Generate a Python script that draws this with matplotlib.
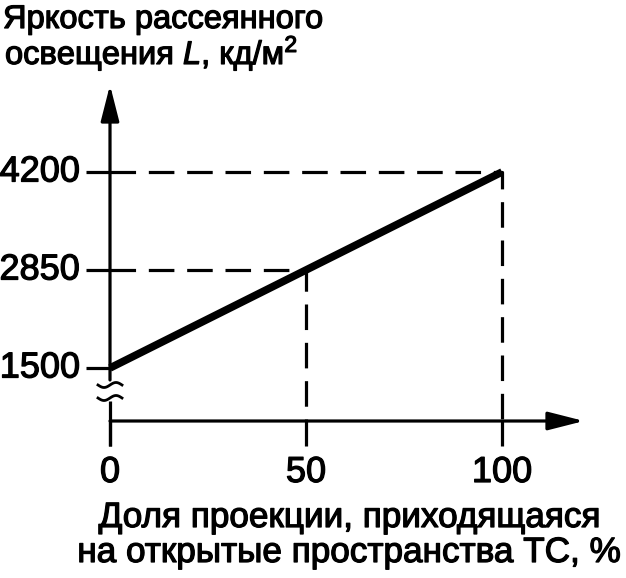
import numpy as np
import matplotlib.pyplot as plt
import matplotlib.patheffects as pe

plt.rcParams['font.family'] = ['Liberation Sans', 'DejaVu Sans']
plt.rcParams['mathtext.fontset'] = 'custom'
plt.rcParams['mathtext.rm'] = 'Liberation Sans'
plt.rcParams['mathtext.it'] = 'Liberation Sans:italic'

# data
share = [0, 50, 100]              # % of projection on open spaces
brightness = [1500, 2850, 4200]   # cd/m2
x_ticks = [0, 50, 100]
y_ticks = [1500, 2850, 4200]
guide_points = [(50, 2850), (100, 4200)]
y_title = ['Яркость рассеянного', 'освещения $L$, кд/м$^2$']
x_title = ['Доля проекции, приходящаяся', 'на открытые пространства ТС, %']

W, H = 626, 578
fig = plt.figure(figsize=(W / 100, H / 100), dpi=100)
ax = fig.add_axes([0, 0, 1, 1])
ax.axis('off')

# pixel layout of the drawing
X0, X100 = 110, 502      # px of x=0 and x=100
Y_LO, Y_HI = 368, 172    # px (from top) of 1500 and 4200
sx = (X100 - X0) / 100
sy = (Y_LO - Y_HI) / (4200 - 1500)
ax.set_xlim(-X0 / sx, (W - X0) / sx)
ax.set_ylim(1500 - (H - Y_LO) / sy, 1500 + Y_LO / sy)


def dx(px):
    return (px - X0) / sx


def dy(py):
    return 1500 + (Y_LO - py) / sy


bold = [pe.withStroke(linewidth=0.9, foreground='k')]

LW = 2.3
base = dy(421)   # where the (broken) x axis sits
k = dict(color='k', lw=LW, solid_capstyle='butt')
head = dict(arrowstyle='-|>,head_length=1.1,head_width=0.28', color='k', lw=LW,
            shrinkA=0, shrinkB=0, mutation_scale=20)

# axes with arrows
ax.annotate('', xy=(0, dy(85)), xytext=(0, dy(380)), arrowprops=head)
ax.annotate('', xy=(dx(584), base), xytext=(0, base), arrowprops=head)
ax.plot([0, 0], [dy(401), dy(446)], **k)

# axis break marks
t = np.linspace(-1, 1, 40)
for py in (385, 398):
    ax.plot(dx(X0 + 12 * t), dy(py - 2.5 * np.sin(np.pi * t)), color='k', lw=2.0)

# ticks
for v in y_ticks:
    ax.plot([dx(86), 0], [v, v], **k)
    ax.text(dx(80), v, str(v), ha='right', va='center', fontsize=26, path_effects=bold)
for v in x_ticks:
    ax.plot([v, v], [base, dy(446)], **k)
    ax.text(v, dy(455), str(v), ha='center', va='top', fontsize=26, path_effects=bold)

# dashed guides
for gx, gy in guide_points:
    ax.plot([0, gx, gx], [gy, gy, base], color='k', lw=LW, ls='--', dashes=(8, 4))

# the line
ax.plot(share, brightness, color='k', lw=5.5, solid_capstyle='butt', zorder=5)

# titles
fig.text(3 / W, 1 - 28 / H, y_title[0], ha='left', va='baseline', fontsize=23.5, path_effects=bold)
fig.text(5 / W, 1 - 64 / H, y_title[1], ha='left', va='baseline', fontsize=23.5, path_effects=bold)
fig.text(349 / W, 1 - 527 / H, x_title[0], ha='center', va='baseline', fontsize=25.3, path_effects=bold)
fig.text(349 / W, 1 - 562 / H, x_title[1], ha='center', va='baseline', fontsize=25.3, path_effects=bold)

fig.savefig('out.png', dpi=100)
